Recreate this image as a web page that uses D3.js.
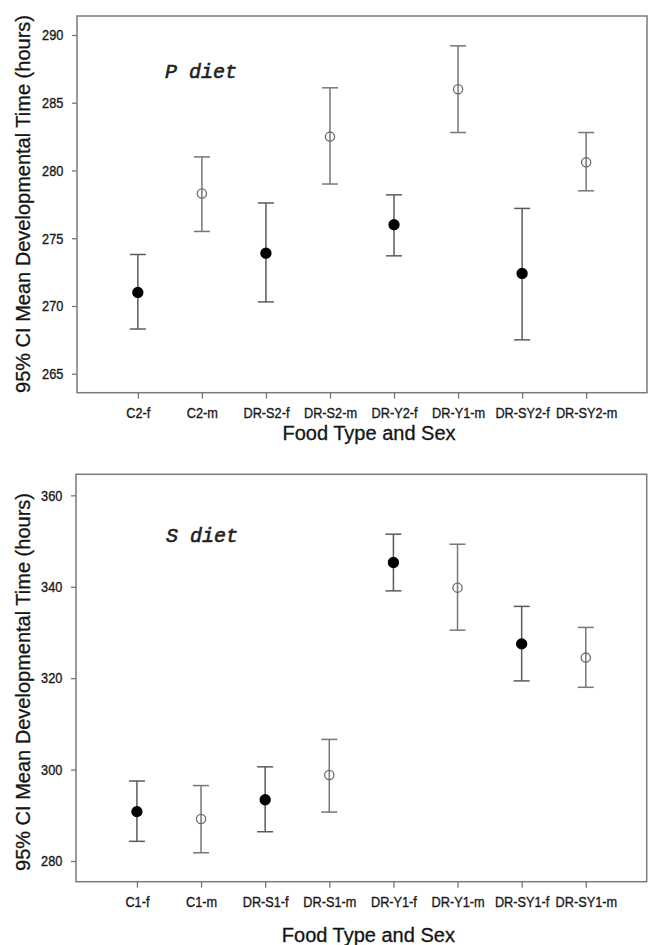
<!DOCTYPE html>
<html>
<head>
<meta charset="utf-8">
<script src="https://cdn.jsdelivr.net/npm/d3@7"></script>
<style>
  body { margin: 0; background: #fff; }
  svg { display: block; }
  .tick text { font-family: "Liberation Sans", Arial, sans-serif; font-size: 14px; fill: #1a1a1a; stroke: #1a1a1a; stroke-width: 0.35; }
  .tick line { stroke: #777; stroke-width: 1.3; }
  .title { font-family: "Liberation Sans", Arial, sans-serif; font-size: 20px; fill: #151515; stroke: #151515; stroke-width: 0.3; }
  .panel-label { font-family: "Liberation Mono", "DejaVu Sans Mono", monospace; font-size: 20px; font-style: italic; fill: #222; stroke: #222; stroke-width: 0.6; }
</style>
</head>
<body>
<svg id="chart" width="653" height="945"></svg>
<script>
'use strict';

// P diet panel
var pCategories = ['C2-f', 'C2-m', 'DR-S2-f', 'DR-S2-m', 'DR-Y2-f', 'DR-Y1-m', 'DR-SY2-f', 'DR-SY2-m'];
var pMeans = [271.0, 278.3, 273.9, 282.5, 276.0, 286.0, 272.4, 280.6];
var pLower = [268.3, 275.5, 270.3, 279.0, 273.7, 282.8, 267.5, 278.5];
var pUpper = [273.8, 281.0, 277.6, 286.1, 278.2, 289.2, 277.2, 282.8];
var pTicks = [265, 270, 275, 280, 285, 290];

// S diet panel
var sCategories = ['C1-f', 'C1-m', 'DR-S1-f', 'DR-S1-m', 'DR-Y1-f', 'DR-Y1-m', 'DR-SY1-f', 'DR-SY1-m'];
var sMeans = [290.8, 289.2, 293.4, 298.8, 345.3, 339.8, 327.5, 324.5];
var sLower = [284.3, 281.8, 286.4, 290.7, 339.1, 330.5, 319.4, 318.0];
var sUpper = [297.5, 296.5, 300.6, 306.6, 351.5, 349.3, 335.7, 331.1];
var sTicks = [280, 300, 320, 340, 360];

var yTitle = '95% CI Mean Developmental Time (hours)';
var xTitle = 'Food Type and Sex';

var svg = d3.select('#chart');

// tick labels in the picture are narrow and tall
var tickScale = 'scale(0.91,1.07)';

function drawPanel(opts){
  var g = svg.append('g');
  var x = d3.scalePoint()
    .domain(opts.categories)
    .range([opts.left, opts.right])
    .padding(0.95);
  var y = d3.scaleLinear()
    .domain(opts.domain)
    .range([opts.bottom, opts.top]);

  var rows = opts.categories.map(function(c, i){
    return {cat: c, mean: opts.means[i], lo: opts.lower[i], hi: opts.upper[i], female: /-f$/.test(c)};
  });

  //frame
  g.append('rect')
    .attr('x', opts.left)
    .attr('y', opts.top)
    .attr('width', opts.right - opts.left)
    .attr('height', opts.bottom - opts.top)
    .style('fill', 'none')
    .style('stroke', '#7a7a7a')
    .style('stroke-width', 1.5);

  //axes
  var ya = g.append('g')
    .attr('transform', 'translate(' + opts.left + ',0)')
    .call(d3.axisLeft(y).tickValues(opts.ticks).tickSize(5).tickPadding(10));
  ya.select('.domain').remove();
  ya.selectAll('.tick text').attr('transform', tickScale);

  var xa = g.append('g')
    .attr('transform', 'translate(0,' + opts.bottom + ')')
    .call(d3.axisBottom(x).tickSize(6).tickPadding(8));
  xa.select('.domain').remove();
  xa.selectAll('.tick text').attr('transform', tickScale);

  //error bars
  var bars = g.selectAll('.bar')
    .data(rows)
    .enter()
    .append('g')
    .attr('class', 'bar')
    .style('stroke', function(d){ return d.female ? '#5a5a5a' : '#777'; })
    .style('stroke-width', 1.5);

  bars.append('line')
    .attr('x1', function(d){ return x(d.cat); })
    .attr('x2', function(d){ return x(d.cat); })
    .attr('y1', function(d){ return y(d.lo); })
    .attr('y2', function(d){ return y(d.hi); });
  bars.append('line')
    .attr('x1', function(d){ return x(d.cat) - 8; })
    .attr('x2', function(d){ return x(d.cat) + 8; })
    .attr('y1', function(d){ return y(d.hi); })
    .attr('y2', function(d){ return y(d.hi); });
  bars.append('line')
    .attr('x1', function(d){ return x(d.cat) - 8; })
    .attr('x2', function(d){ return x(d.cat) + 8; })
    .attr('y1', function(d){ return y(d.lo); })
    .attr('y2', function(d){ return y(d.lo); });

  //means
  g.selectAll('.mean')
    .data(rows)
    .enter()
    .append('circle')
    .attr('class', 'mean')
    .attr('cx', function(d){ return x(d.cat); })
    .attr('cy', function(d){ return y(d.mean); })
    .attr('r', function(d){ return d.female ? 5 : 4.6; })
    .style('fill', function(d){ return d.female ? '#000' : 'none'; })
    .style('stroke', function(d){ return d.female ? '#000' : '#6a6a6a'; })
    .style('stroke-width', 1.3);

  //titles
  g.append('text')
    .attr('class', 'title')
    .attr('transform', 'translate(' + opts.yTitleX + ',' + opts.yTitleY + ') rotate(-90)')
    .attr('text-anchor', 'middle')
    .attr('dy', '0.35em')
    .text(yTitle);

  g.append('text')
    .attr('class', 'title')
    .attr('x', (opts.left + opts.right) / 2 + 7)
    .attr('y', opts.xTitleY)
    .attr('text-anchor', 'middle')
    .text(xTitle);

  g.append('text')
    .attr('class', 'panel-label')
    .attr('x', opts.labelX)
    .attr('y', opts.labelY)
    .text(opts.label);
}

drawPanel({
  categories: pCategories, means: pMeans, lower: pLower, upper: pUpper, ticks: pTicks,
  domain: [263.6, 291.4], left: 77, right: 647, top: 16, bottom: 392.7,
  yTitleX: 23, yTitleY: 204, xTitleY: 440, label: 'P diet', labelX: 165, labelY: 78
});

drawPanel({
  categories: sCategories, means: sMeans, lower: sLower, upper: sUpper, ticks: sTicks,
  domain: [275.47, 364.6], left: 76, right: 646.7, top: 474.3, bottom: 881.7,
  yTitleX: 23, yTitleY: 682, xTitleY: 942, label: 'S diet', labelX: 166, labelY: 542
});
</script>
</body>
</html>
